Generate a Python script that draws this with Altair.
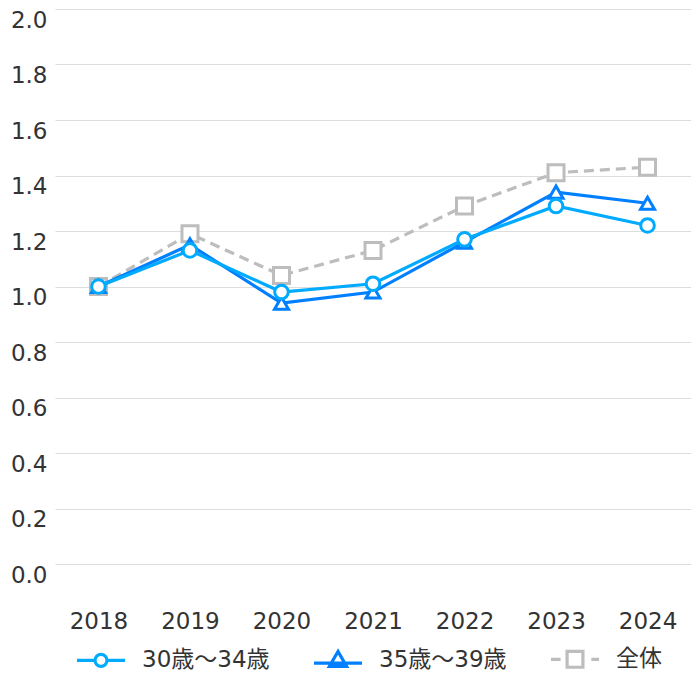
import altair as alt
import pandas as pd

years = ["2018", "2019", "2020", "2021", "2022", "2023", "2024"]
series = ["30歳～34歳", "35歳～39歳", "全体"]
v30_34 = [1.00, 1.13, 0.98, 1.01, 1.17, 1.29, 1.22]
v35_39 = [1.00, 1.15, 0.94, 0.98, 1.16, 1.34, 1.30]
v_all = [1.00, 1.19, 1.04, 1.13, 1.29, 1.41, 1.43]
colors = ["#00aaff", "#0080ff", "#bdbdbd"]
y_ticks = [0.0, 0.2, 0.4, 0.6, 0.8, 1.0, 1.2, 1.4, 1.6, 1.8, 2.0]

rows = []
for s, vals in zip(series, [v30_34, v35_39, v_all]):
    for yr, v in zip(years, vals):
        rows.append({"year": yr, "series": s, "value": v})
df = pd.DataFrame(rows)

FONT = "DejaVu Sans, Noto Sans CJK JP"
TXT = "#333333"

base = alt.Chart(df).encode(
    x=alt.X("year:N", sort=years,
            scale=alt.Scale(type="point", padding=0.475),
            axis=alt.Axis(title=None, labelAngle=0, domain=False, ticks=False,
                          grid=False, labelFontSize=23, labelColor=TXT,
                          labelPadding=46, labelBaseline="top", labelFont=FONT)),
    y=alt.Y("value:Q", scale=alt.Scale(domain=[0, 2], nice=False, zero=True),
            axis=alt.Axis(title=None, values=y_ticks, format=".1f", domain=False,
                          ticks=False, grid=True, gridColor="#dddddd",
                          labelFontSize=23, labelColor=TXT, labelPadding=8,
                          labelBaseline="top", labelFont=FONT)),
)

def sel(s):
    return base.transform_filter(alt.datum.series == s)

line_all = sel(series[2]).mark_line(color=colors[2], strokeWidth=3.2, strokeDash=[10, 6])
pts_all = sel(series[2]).mark_point(shape="square", size=256, filled=True, fill="white",
                                   stroke=colors[2], strokeWidth=3, opacity=1)
line_35 = sel(series[1]).mark_line(color=colors[1], strokeWidth=3.2)
pts_35 = sel(series[1]).mark_point(shape="triangle-up", size=196, filled=True, fill="white",
                                  stroke=colors[1], strokeWidth=3, opacity=1)
line_30 = sel(series[0]).mark_line(color=colors[0], strokeWidth=3.2)
pts_30 = sel(series[0]).mark_point(shape="circle", size=185, filled=True, fill="white",
                                  stroke=colors[0], strokeWidth=3, opacity=1)

legend_paths = [
    "M-1,0H-0.26M0.26,0H1M-0.25,0A0.25,0.25 0 1,0 0.25,0A0.25,0.25 0 1,0 -0.25,0Z",
    "M-1,0.12H1M0,-0.36L-0.36,0.26L0.36,0.26Z",
    "M-1,0H-0.6M0.68,0H1M-0.33,-0.33H0.33V0.33H-0.33Z",
]

leg = alt.Legend(title=None, orient="none", legendX=20, legendY=624, direction="horizontal",
                 columns=3, columnPadding=37, symbolSize=2304, symbolStrokeWidth=3.2,
                 symbolOpacity=1, symbolFillColor="white", labelFontSize=23,
                 labelColor=TXT, labelFont=FONT, labelOffset=15, padding=0,
                 labelLimit=300)

legend_layer = base.mark_point(filled=True, fill="white", opacity=0, size=2304,
                               strokeWidth=3.2).encode(
    shape=alt.Shape("series:N", scale=alt.Scale(domain=series, range=legend_paths), legend=leg),
    stroke=alt.Stroke("series:N", scale=alt.Scale(domain=series, range=colors), legend=leg),
)

chart = alt.layer(legend_layer, line_all, pts_all, line_35, pts_35, line_30, pts_30).properties(
    width=636, height=555,
    autosize=alt.AutoSizeParams(type="none"),
    padding={"left": 47, "top": 1, "right": 0, "bottom": 115},
).configure(font=FONT).configure_view(stroke=None)

chart.save("out.html", embed_options={"renderer": "svg", "actions": False})
